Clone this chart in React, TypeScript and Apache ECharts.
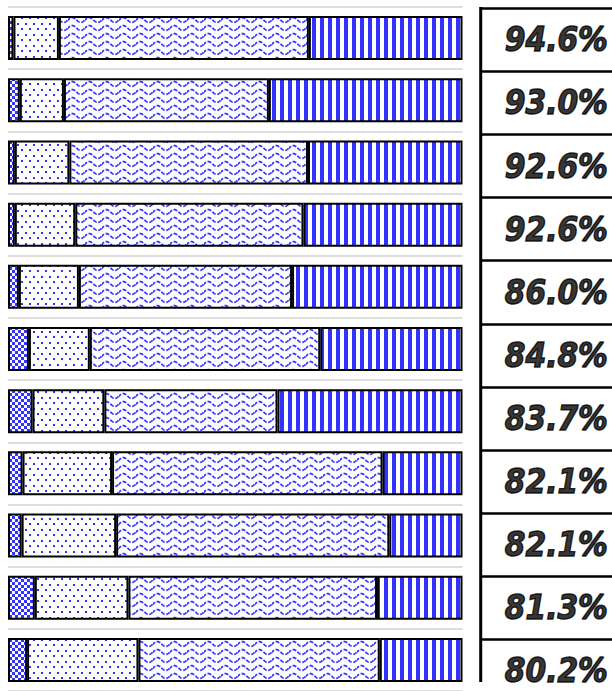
import React, { useEffect, useRef } from 'react';
import * as echarts from 'echarts';

const categories = ['Item 1', 'Item 2', 'Item 3', 'Item 4', 'Item 5', 'Item 6', 'Item 7', 'Item 8', 'Item 9', 'Item 10', 'Item 11'];
const seg1 = [1.2, 2.6, 1.5, 1.5, 2.4, 4.6, 5.4, 3.2, 3.0, 5.9, 4.2];
const seg2 = [10.0, 9.7, 12.0, 13.3, 13.2, 13.4, 15.8, 19.7, 20.8, 20.6, 24.5];
const seg3 = [55.0, 45.1, 52.5, 50.2, 46.9, 50.7, 38.1, 59.5, 60.1, 54.7, 53.1];
const seg4 = [33.8, 42.6, 34.0, 35.0, 37.5, 31.3, 40.7, 17.6, 16.1, 18.8, 18.2];
const totals = [94.6, 93.0, 92.6, 92.6, 86.0, 84.8, 83.7, 82.1, 82.1, 81.3, 80.2];

const BLUE = '#3333ff';

function makeCanvas(w: number, h: number, draw: (ctx: CanvasRenderingContext2D) => void) {
  const c = document.createElement('canvas');
  c.width = w;
  c.height = h;
  const ctx = c.getContext('2d')!;
  ctx.fillStyle = '#ffffff';
  ctx.fillRect(0, 0, w, h);
  draw(ctx);
  return { image: c, repeat: 'repeat', imageWidth: w, imageHeight: h } as any;
}

function checkerPattern() {
  return makeCanvas(6, 6, (ctx) => {
    ctx.fillStyle = BLUE;
    ctx.fillRect(0, 0, 3, 3);
    ctx.fillRect(3, 3, 3, 3);
  });
}

function dotPattern() {
  return makeCanvas(8, 11, (ctx) => {
    ctx.fillStyle = BLUE;
    ctx.fillRect(1, 1, 2, 2);
    ctx.fillRect(5, 6, 2, 2);
  });
}

function wavePattern() {
  return makeCanvas(17, 8, (ctx) => {
    ctx.strokeStyle = BLUE;
    ctx.lineWidth = 1.7;
    ctx.setLineDash([4, 1.6]);
    ctx.beginPath();
    for (let x = -1; x <= 18; x += 0.5) {
      const y = 4 - 2.4 * Math.sin((2 * Math.PI * x) / 17);
      if (x === -1) ctx.moveTo(x, y);
      else ctx.lineTo(x, y);
    }
    ctx.stroke();
  });
}

function stripePattern() {
  return makeCanvas(8, 8, (ctx) => {
    ctx.fillStyle = BLUE;
    ctx.fillRect(0, 0, 4, 8);
  });
}

export default function App() {
  const ref = useRef<HTMLDivElement>(null);

  useEffect(() => {
    if (!ref.current) return;
    const chart = echarts.init(ref.current, null, { renderer: 'svg' });
    const border = { borderColor: '#000', borderWidth: 2 };
    const segs = [seg1, seg2, seg3, seg4];
    const patterns = [checkerPattern(), dotPattern(), wavePattern(), stripePattern()];
    const names = ['Segment 1', 'Segment 2', 'Segment 3', 'Segment 4'];

    chart.setOption({
      animation: false,
      backgroundColor: '#ffffff',
      grid: [
        { left: 8, width: 454.5, top: 7, height: 684 },
        { left: 480.7, right: 0, top: 8.3, height: 694.1 },
      ],
      xAxis: [
        { gridIndex: 0, type: 'value', min: 0, max: 100, show: false },
        { gridIndex: 1, type: 'value', min: 0, max: 1, show: false },
      ],
      yAxis: [
        {
          gridIndex: 0,
          type: 'category',
          data: categories,
          inverse: true,
          axisLine: { show: false },
          axisTick: { show: false },
          axisLabel: { show: false },
          splitLine: { show: true, lineStyle: { color: '#dedede', width: 2 } },
        },
        {
          gridIndex: 1,
          type: 'category',
          data: categories,
          inverse: true,
          axisLine: { show: false },
          axisTick: { show: false },
          axisLabel: { show: false },
          splitLine: { show: true, lineStyle: { color: '#000', width: 2.6 } },
        },
      ],
      graphic: [
        {
          type: 'line',
          shape: { x1: 480.7, y1: 7, x2: 480.7, y2: 682 },
          style: { stroke: '#000', lineWidth: 3 },
        },
      ],
      series: [
        ...segs.map((d, i) => ({
          name: names[i],
          type: 'bar',
          stack: 'total',
          xAxisIndex: 0,
          yAxisIndex: 0,
          barWidth: 44,
          data: d,
          itemStyle: { color: patterns[i], ...border },
          emphasis: { disabled: true },
        })),
        {
          name: 'Total',
          type: 'scatter',
          xAxisIndex: 1,
          yAxisIndex: 1,
          symbolSize: 1,
          itemStyle: { color: 'rgba(0,0,0,0)' },
          data: totals.map((t, i) => [0.5, categories[i], t]),
          label: {
            show: true,
            position: 'inside',
            offset: [10, 0],
            formatter: (p: any) => p.value[2].toFixed(1) + '%',
            fontSize: 33,
            fontWeight: 'bold',
            fontStyle: 'italic',
            fontFamily: '"DejaVu Sans Condensed", "DejaVu Sans", sans-serif',
            color: '#000',
            textBorderColor: '#000',
            textBorderWidth: 1.4,
          },
          emphasis: { disabled: true },
        },
      ],
    });

    return () => chart.dispose();
  }, []);

  return <div ref={ref} style={{ position: 'fixed', left: 0, top: 0, width: 612, height: 720 }} />;
}
